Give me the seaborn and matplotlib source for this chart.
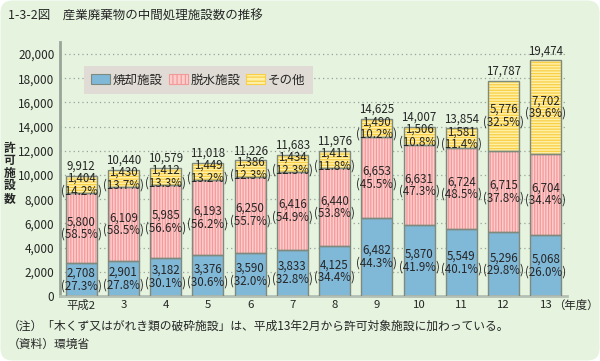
import matplotlib
matplotlib.use("Agg")
import matplotlib.pyplot as plt
import matplotlib.patches as mpatches
from matplotlib.transforms import IdentityTransform, blended_transform_factory
import numpy as np
import seaborn as sns

years = ["平成2", "3", "4", "5", "6", "7", "8", "9", "10", "11", "12", "13"]
incineration = [2708, 2901, 3182, 3376, 3590, 3833, 4125, 6482, 5870, 5549, 5296, 5068]
dehydration = [5800, 6109, 5985, 6193, 6250, 6416, 6440, 6653, 6631, 6724, 6715, 6704]
other = [1404, 1430, 1412, 1449, 1386, 1434, 1411, 1490, 1506, 1581, 5776, 7702]
totals = [9912, 10440, 10579, 11018, 11226, 11683, 11976, 14625, 14007, 13854, 17787, 19474]
pct_incineration = [27.3, 27.8, 30.1, 30.6, 32.0, 32.8, 34.4, 44.3, 41.9, 40.1, 29.8, 26.0]
pct_dehydration = [58.5, 58.5, 56.6, 56.2, 55.7, 54.9, 53.8, 45.5, 47.3, 48.5, 37.8, 34.4]
pct_other = [14.2, 13.7, 13.3, 13.2, 12.3, 12.3, 11.8, 10.2, 10.8, 11.4, 32.5, 39.6]
series_names = ["焼却施設", "脱水施設", "その他"]

sns.set_theme(style="white")
plt.rcParams['font.family'] = ['Noto Sans CJK JP', 'DejaVu Sans']
plt.rcParams['hatch.linewidth'] = 0.9

bg = "#e5f3df"
blue = "#80b8d8"
pink, pink_line = "#ffcccc", "#f29a9a"
yellow, yellow_line = "#fff0a8", "#f8cf45"
edge = "#7d8a7d"

fig = plt.figure(figsize=(6, 3.61), dpi=100)
fig.patch.set_facecolor("white")
fig.add_artist(mpatches.FancyBboxPatch((0.5, 0.5), 599, 360, boxstyle="round,pad=0,rounding_size=12",
                                       transform=IdentityTransform(), facecolor=bg, edgecolor="none", zorder=-10))
ax = fig.add_axes([0.1, 0.18, 0.845, 0.7037])
ax.set_facecolor(bg)

inc = np.array(incineration)
deh = np.array(dehydration)
tot = np.array(totals)
x = np.arange(len(years))
w = 0.73

# stacked bars drawn tallest first
sns.barplot(x=years, y=tot, color=yellow, width=w, saturation=1, ax=ax, zorder=2)
n0 = len(ax.patches)
sns.barplot(x=years, y=inc + deh, color=pink, width=w, saturation=1, ax=ax, zorder=2)
n1 = len(ax.patches)
sns.barplot(x=years, y=inc, color=blue, width=w, saturation=1, ax=ax, zorder=2)
for p in ax.patches[:n0]:
    p.set_hatch("------")
    p.set_edgecolor(yellow_line)
    p.set_linewidth(0)
for p in ax.patches[n0:n1]:
    p.set_hatch("||||||")
    p.set_edgecolor(pink_line)
    p.set_linewidth(0)
for p in ax.patches[n1:]:
    p.set_linewidth(0)

# outlines
ax.bar(x, inc, width=w, fill=False, edgecolor=edge, linewidth=1, zorder=3)
ax.bar(x, deh, bottom=inc, width=w, fill=False, edgecolor=edge, linewidth=1, zorder=3)
ax.bar(x, other, bottom=inc + deh, width=w, fill=False, edgecolor=edge, linewidth=1, zorder=3)

fs = 8.3
for i in range(len(years)):
    ax.text(x[i], tot[i] + 250, f"{totals[i]:,}", ha="center", va="bottom", fontsize=fs, zorder=5)
    ax.text(x[i], inc[i] / 2, f"{incineration[i]:,}\n({pct_incineration[i]:.1f}%)",
            ha="center", va="center", fontsize=fs, linespacing=0.95, zorder=5)
    ax.text(x[i], inc[i] + deh[i] / 2, f"{dehydration[i]:,}\n({pct_dehydration[i]:.1f}%)",
            ha="center", va="center", fontsize=fs, linespacing=0.95, zorder=5)
    ax.text(x[i], inc[i] + deh[i] + other[i] / 2, f"{other[i]:,}\n({pct_other[i]:.1f}%)",
            ha="center", va="center", fontsize=fs, linespacing=0.95, zorder=5)

ax.set_xlim(-0.5, 11.5)
ax.set_ylim(0, 21000)
ax.set_yticks(range(0, 20001, 2000))
ax.set_yticklabels([f"{v:,}" for v in range(0, 20001, 2000)], fontsize=8.5)
ax.yaxis.grid(True, linestyle=(0, (1, 2.5)), color="#9aa39a", linewidth=0.9, zorder=0)
ax.set_axisbelow(True)
ax.tick_params(axis="y", length=0, pad=4)
ax.set_xticks(x)
ax.set_xticklabels(years, fontsize=8.2)
ax.tick_params(axis="x", length=0, pad=3)
# small separators between categories
ax.set_xticks(x[:-1] + 0.5, minor=True)
ax.tick_params(axis="x", which="minor", direction="in", length=5, width=1, color="#9aa59a")
for s in ["top", "right"]:
    ax.spines[s].set_visible(False)
ax.spines["left"].set_color("#9aa59a")
ax.spines["left"].set_linewidth(2)
ax.spines["bottom"].set_color("#b5c0b5")
ax.spines["bottom"].set_linewidth(2)
ax.set_xlabel("")
ax.set_ylabel("")
bt = blended_transform_factory(ax.transData, ax.transAxes)
ax.text(11.16, -0.016, "（年度）", fontsize=8.2, ha="left", va="top", transform=bt)

handles = [mpatches.Patch(facecolor=blue, edgecolor=edge, linewidth=0.8),
           mpatches.Patch(facecolor=pink, edgecolor=pink_line, hatch="||||", linewidth=0.8),
           mpatches.Patch(facecolor=yellow, edgecolor=yellow_line, hatch="----", linewidth=0.8)]
leg = ax.legend(handles, series_names, loc="upper left", bbox_to_anchor=(0.035, 0.93), ncol=3,
                fontsize=9, frameon=True, fancybox=False, handlelength=1.5, handleheight=0.9,
                handletextpad=0.2, columnspacing=0.5, borderpad=0.6)
leg.get_frame().set_facecolor("#e0dbd5")
leg.get_frame().set_edgecolor("none")
leg.get_frame().set_alpha(1)

fig.text(0.006, 0.52, "\n".join("許可施設数"), fontsize=8.5, fontweight="bold", ha="left", va="center", linespacing=0.95)
fig.text(0.013, 0.955, "1-3-2図　産業廃棄物の中間処理施設数の推移", fontsize=9, ha="left", va="center")
fig.text(0.013, 0.095, "（注）「木くず又はがれき類の破砕施設」は、平成13年2月から許可対象施設に加わっている。",
         fontsize=8.5, ha="left", va="center")
fig.text(0.013, 0.045, "（資料）環境省", fontsize=8.5, ha="left", va="center")

fig.savefig("out.png", dpi=100, facecolor=fig.get_facecolor())
